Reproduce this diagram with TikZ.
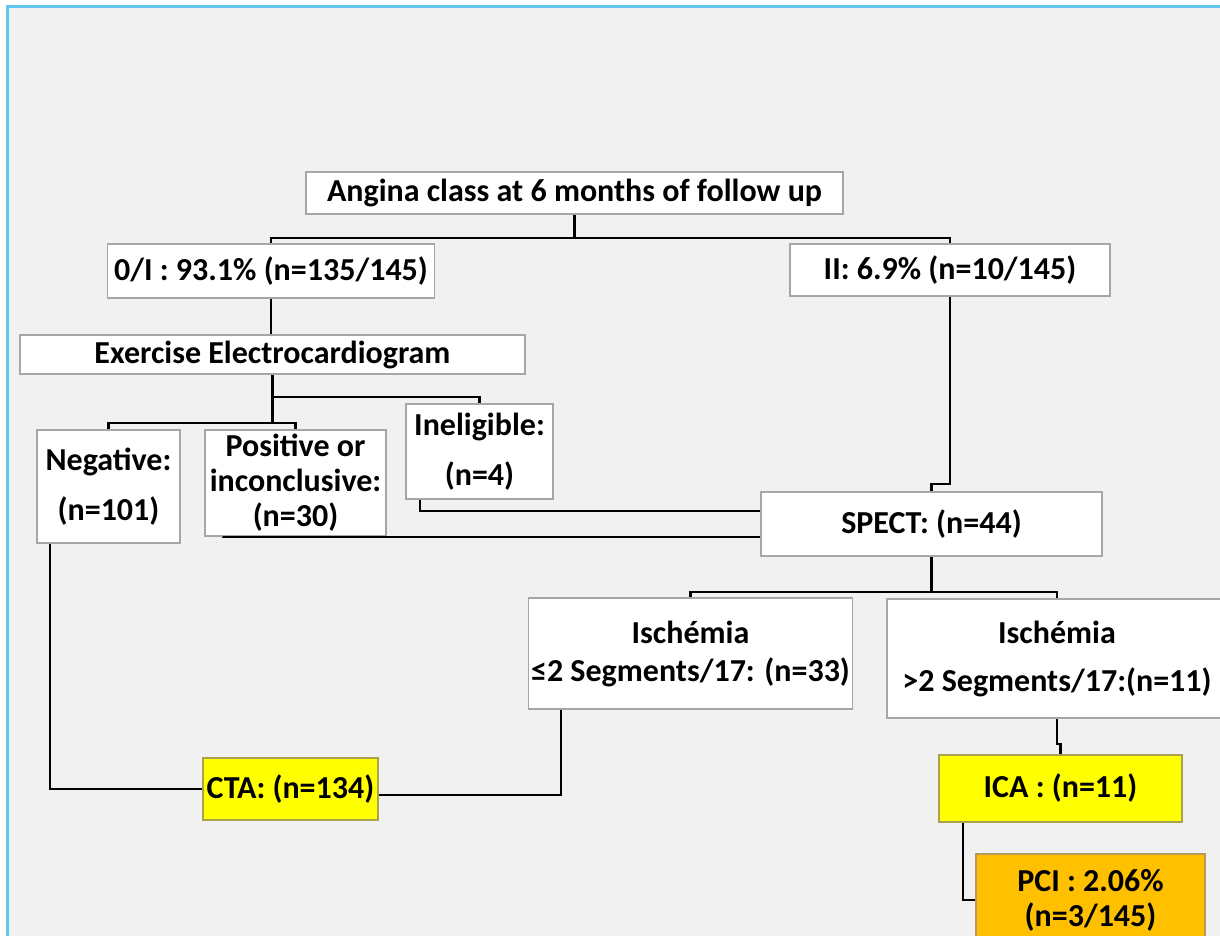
\documentclass[tikz,border=0pt]{standalone}
\usepackage{fontspec}
\setmainfont{Carlito}
\usetikzlibrary{positioning}

\definecolor{panelgray}{HTML}{F1F1F1}
\definecolor{frameblue}{HTML}{62C6EE}
\definecolor{boxgray}{HTML}{A6A6A6}
\definecolor{ctayellow}{HTML}{FFFF00}
\definecolor{pciorange}{HTML}{FFC000}
\definecolor{yellowedge}{HTML}{A8A24E}
\definecolor{orangeedge}{HTML}{B39B5E}

\begin{document}
\begin{tikzpicture}[x=1pt, y=-1pt, every node/.style={align=center, font=\fontsize{32}{37}\selectfont\bfseries},
    box/.style={draw=boxgray, line width=1.5pt, fill=white, inner sep=0pt},
    ctabox/.style={box, draw=yellowedge, fill=ctayellow},
    pcibox/.style={box, draw=orangeedge, fill=pciorange},
    link/.style={line width=2.3pt, black}]
      \clip (0,0) rectangle (1220,936);

      % Panel
      \fill[white] (0,0) rectangle (1220,936);
      \fill[panelgray] (7,7) rectangle (1220,936);
      \draw[frameblue, line width=3pt] (7,936) -- (7,7) -- (1220,7);

      % Top
      \node (title) [box, minimum width=537, minimum height=42] at (574.5,193) {Angina class at 6 months of follow up};
      \node (oi) [box, minimum width=327, minimum height=54] at (271,271) {0/I : 93.1\% (n=135/145)};
      \node (two) [box, minimum width=320, minimum height=52] at (950,270) {II: 6.9\% (n=10/145)};
      \draw[link] (title.south) -- ++(0,23) -| (oi.north);
      \draw[link] (title.south) -- ++(0,23) -| (two.north);

      % Left branch - exercise ECG
      \node (ecg) [box, minimum width=505, minimum height=39] at (272.5,354.5) {Exercise Electrocardiogram};
      \node (neg) [box, minimum width=143, minimum height=113] at (108.5,486.5) {Negative:\\[13pt](n=101)};
      \node (pos) [box, minimum width=181, minimum height=106] at (295.5,483) {Positive or\\[-2pt]inconclusive:\\[-2pt](n=30)};
      \node (inel) [box, minimum width=147, minimum height=95] at (479.5,451.5) {Ineligible:\\[13pt](n=4)};
      \draw[link] (oi.south) -- (oi.south |- ecg.north);
      \draw[link] (ecg.south) -- ++(0,22) -| (inel.north);
      \draw[link] (ecg.south) -- ++(0,48) -| (neg.north);
      \draw[link] (ecg.south) -- ++(0,48) -| (pos.north);

      % Right branch - SPECT
      \node (spect) [box, minimum width=341, minimum height=64] at (931.5,524) {SPECT: (n=44)};
      \draw[link] (two.south) -- ++(0,187) -| (spect.north);
      \draw[link] ([xshift=15pt]inel.south west) |- ([yshift=13pt]spect.west);
      \draw[link] ([xshift=19pt]pos.south west) |- ([yshift=-13pt]spect.west);

      \node (isch1) [box, minimum width=324, minimum height=111] at (690.5,653.5) {Ischémia\\[1pt]≤2 Segments/17: (n=33)};
      \node (isch2) [box, minimum width=340, minimum height=119] at (1057,658.5) {Ischémia\\[11pt]>2 Segments/17:(n=11)};
      \draw[link] (spect.south) -- ++(0,35) -| (isch1.north);
      \draw[link] (spect.south) -- ++(0,35) -| (isch2.north);

      % Outcomes
      \node (cta) [ctabox, minimum width=175, minimum height=62] at (290.5,789) {CTA: (n=134)};
      \node (ica) [ctabox, minimum width=243, minimum height=67] at (1060.5,788.5) {ICA : (n=11)};
      \node (pci) [pcibox, minimum width=229, minimum height=92] at (1090.5,900) {PCI : 2.06\%\\[-2pt](n=3/145)};
      \draw[link] ([xshift=14pt]neg.south west) |- (cta.west);
      \draw[link] ([xshift=33pt]isch1.south west) |- ([yshift=-6pt]cta.east);
      \draw[link] (isch2.south) -- ++(0,25) -| (ica.north);
      \draw[link] ([xshift=25pt]ica.south west) |- (pci.west);

    \end{tikzpicture}
\end{document}
